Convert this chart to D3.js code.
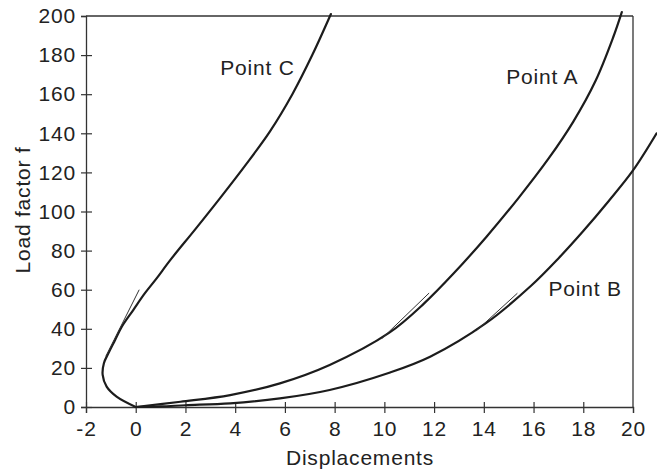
<!DOCTYPE html>
<html>
<head>
<meta charset="utf-8">
<script src="https://cdn.jsdelivr.net/npm/d3@7"></script>
<style>
  html, body { margin: 0; padding: 0; background: #fff; }
  svg { display: block; }
  text { font-family: "Liberation Sans", Arial, Helvetica, sans-serif; fill: #222; }
</style>
</head>
<body>
<svg id="chart" width="657" height="473"></svg>
<script>
// ---- data ----
const xTicks = [-2, 0, 2, 4, 6, 8, 10, 12, 14, 16, 18, 20];
const yTicks = [0, 20, 40, 60, 80, 100, 120, 140, 160, 180, 200];
const xLabel = "Displacements";
const yLabel = "Load factor f";

const pointC = [[0,0],[-0.77,5.3],[-1.17,10.4],[-1.33,16.4],[-1.28,22.4],[-1.10,27.5],[-0.83,34.3],
  [-0.56,41.1],[-0.1,49.6],[0.37,58.2],[0.84,65.8],[1.38,75],[2.4,91],[3.4,107],[4.4,123.5],
  [5.4,141],[6.3,160],[7.1,180],[7.85,201]];
const pointA = [[0,0],[1.8,2.7],[3.8,6.1],[5.8,12.1],[7.8,21.5],[10.2,38],[11.6,53],[12.8,68.5],
  [14.1,87],[15.4,107],[16.6,127],[17.6,146],[18.5,167],[19.2,189],[19.55,202]];
const pointB = [[0,0],[1,0.3],[2,0.9],[3.8,1.9],[5.8,4.4],[7.8,8.7],[10.2,17.5],[11.84,25.7],
  [14.1,43],[15.9,62],[17.0,76],[18.0,90],[19.0,105],[20.0,121],[20.95,140]];

const tangentC = [[-1.2,26],[0.14,60]];
const tangentA = [[9.9,35],[11.8,58.3]];
const tangentB = [[13.7,39],[15.35,58.2]];

const labels = [
  {text: "Point C", x: 3.4, y: 170},
  {text: "Point A", x: 14.9, y: 165},
  {text: "Point B", x: 16.6, y: 57}
];

// ---- chart ----
const svg = d3.select("#chart");
const x = d3.scaleLinear().domain([-2, 20]).range([86, 633]);
const y = d3.scaleLinear().domain([0, 200]).range([407, 16]);

const ink = "#1c1c1c";

// frame top and right
svg.append("line").attr("x1", x(-2)).attr("x2", x(20)).attr("y1", y(200)).attr("y2", y(200))
  .attr("stroke", "#333").attr("stroke-width", 1.3);
svg.append("line").attr("x1", x(20)).attr("x2", x(20)).attr("y1", y(200)).attr("y2", y(0))
  .attr("stroke", "#333").attr("stroke-width", 1.3);

// x axis
const gx = svg.append("g").attr("transform", `translate(0,${y(0)})`)
  .call(d3.axisBottom(x).tickValues(xTicks).tickSize(6).tickPadding(8).tickFormat(d => String(d)));
gx.select(".domain").attr("stroke", "#333").attr("stroke-width", 1.3);
gx.selectAll(".tick line").attr("y1", d => d === 20 ? 0 : -5).attr("stroke", "#333").attr("stroke-width", 1.2);
gx.selectAll(".tick text").attr("font-size", 21).attr("letter-spacing", 0.8).attr("fill", "#222")
  .attr("font-family", "'Liberation Sans', Arial, sans-serif");

// y axis
const gy = svg.append("g").attr("transform", `translate(${x(-2)},0)`)
  .call(d3.axisLeft(y).tickValues(yTicks).tickSize(5).tickPadding(5).tickFormat(d => String(d)));
gy.select(".domain").attr("stroke", "#333").attr("stroke-width", 1.3);
gy.selectAll(".tick line").attr("x1", d => d === 200 ? 0 : 6).attr("stroke", "#333").attr("stroke-width", 1.2);
gy.selectAll(".tick text").attr("font-size", 21).attr("letter-spacing", 0.8).attr("fill", "#222")
  .attr("font-family", "'Liberation Sans', Arial, sans-serif");

// axis titles
svg.append("text").attr("x", 360).attr("y", 465).attr("text-anchor", "middle")
  .attr("font-size", 21).attr("letter-spacing", 0.8).text(xLabel);
svg.append("text").attr("transform", "translate(30,210) rotate(-90)").attr("text-anchor", "middle")
  .attr("font-size", 21).attr("letter-spacing", 0.8).text(yLabel);

// curves
const line = d3.line().x(d => x(d[0])).y(d => y(d[1])).curve(d3.curveCatmullRom.alpha(0.5));
[pointC, pointA, pointB].forEach(s => {
  svg.append("path").datum(s).attr("d", line).attr("fill", "none")
    .attr("stroke", ink).attr("stroke-width", 2.2).attr("stroke-linecap", "round");
});
const straight = d3.line().x(d => x(d[0])).y(d => y(d[1]));
[tangentC, tangentA, tangentB].forEach(s => {
  svg.append("path").datum(s).attr("d", straight).attr("fill", "none")
    .attr("stroke", "#333").attr("stroke-width", 1);
});

// labels
labels.forEach(l => {
  svg.append("text").attr("x", x(l.x)).attr("y", y(l.y)).attr("font-size", 21)
    .attr("letter-spacing", 0.8).text(l.text);
});
</script>
</body>
</html>
